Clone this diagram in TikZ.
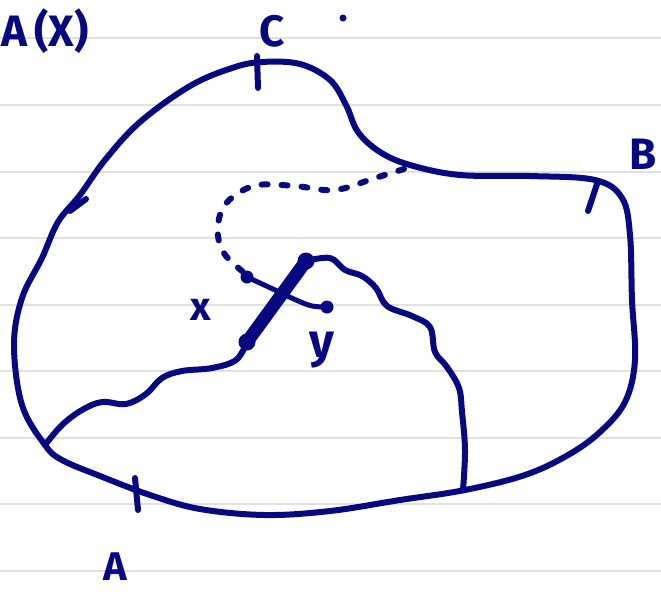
\documentclass[tikz,border=0pt]{standalone}
\usepackage{fontspec}
\setmainfont{Fira Sans}
\begin{document}
\begin{tikzpicture}[x=1pt,y=-1pt,
  ink/.style={draw=inkblue,line width=6pt,line cap=round,line join=round},
  paper/.style={draw=black!12,line width=1.8pt},
  lbl/.style={text=inkblue,font=\fontsize{44}{46}\selectfont\bfseries,inner sep=0pt},
  bigdot/.style={circle,fill=inkblue,inner sep=0pt,minimum size=17pt},
  smalldot/.style={circle,fill=inkblue,inner sep=0pt,minimum size=13pt}]
\definecolor{inkblue}{RGB}{8,8,128}
\useasboundingbox (0,0) rectangle (661,597);
\fill[white] (0,0) rectangle (661,597);
% ruled paper
\foreach \yy in {38,105,172,238,305,371,438,504,571}
  \draw[paper] (0,\yy) -- (661,\yy);
% labels
\node[lbl,anchor=west] (ax) at (1,31) {A\,(X)};
\node[lbl] (c) at (272,31) {C};
\node[lbl] (b) at (643,154) {B};
\node[lbl,font=\fontsize{40}{42}\selectfont\bfseries] (a) at (115,567) {A};
\node[lbl,font=\fontsize{40}{42}\selectfont\bfseries] (xl) at (201,310) {x};
\node[lbl,font=\fontsize{48}{50}\selectfont\bfseries] (yl) at (322,350) {y};
\fill[inkblue] (343,18) circle (3.5pt);
% outer boundary
\draw[ink] plot[smooth cycle,tension=0.6] coordinates {
 (45,445) (22,405) (14,345) (22,298) (42,258) (58,222) (80,195) (105,160)
 (140,122) (190,86) (232,68) (262,62) (300,64) (330,80) (346,105) (358,132)
 (380,152) (410,165) (460,175) (530,176) (595,180) (622,198) (630,235)
 (632,300) (635,360) (625,402) (600,432) (568,455) (525,475) (465,490)
 (400,500) (330,511) (265,515) (200,509) (150,495) (100,476) (62,460)};
% ticks
\draw[ink] (257,56) -- (258,88);
\draw[ink] (598,181) -- (588,211);
\draw[ink] (70,211) -- (86,199);
\draw[ink] (135,478) -- (138,510);
% inner cut curve
\coordinate (p) at (247,342);
\coordinate (q) at (306,261);
\draw[ink] plot[smooth,tension=0.6] coordinates {
 (45,445) (62,425) (82,410) (102,402) (126,404) (146,394) (162,378)
 (182,371) (212,368) (236,360) (247,342)};
\draw[ink] plot[smooth,tension=0.6] coordinates {
 (306,261) (330,258) (345,270) (362,276) (376,288) (387,306) (412,316)
 (430,327) (435,352) (447,367) (459,388) (462,412) (465,450) (463,490)};
% dotted path
\draw[ink,dash pattern=on 6pt off 14pt] plot[smooth,tension=0.6] coordinates {
 (404,169) (375,178) (335,190) (295,186) (258,185) (234,196) (221,212)
 (218,236) (226,256) (247,275)};
% bold segment
\draw[inkblue,line width=13pt,line cap=round] (p) -- (q);
\node[bigdot] (pd) at (p) {};
\node[bigdot] (qd) at (q) {};
% cross path
\node[smalldot] (u) at (247,277) {};
\node[smalldot] (v) at (327,307) {};
\draw[ink,line width=5pt] plot[smooth,tension=0.6] coordinates {
 (247,277) (275,290) (296,300) (312,306) (327,307)};
\end{tikzpicture}
\end{document}
